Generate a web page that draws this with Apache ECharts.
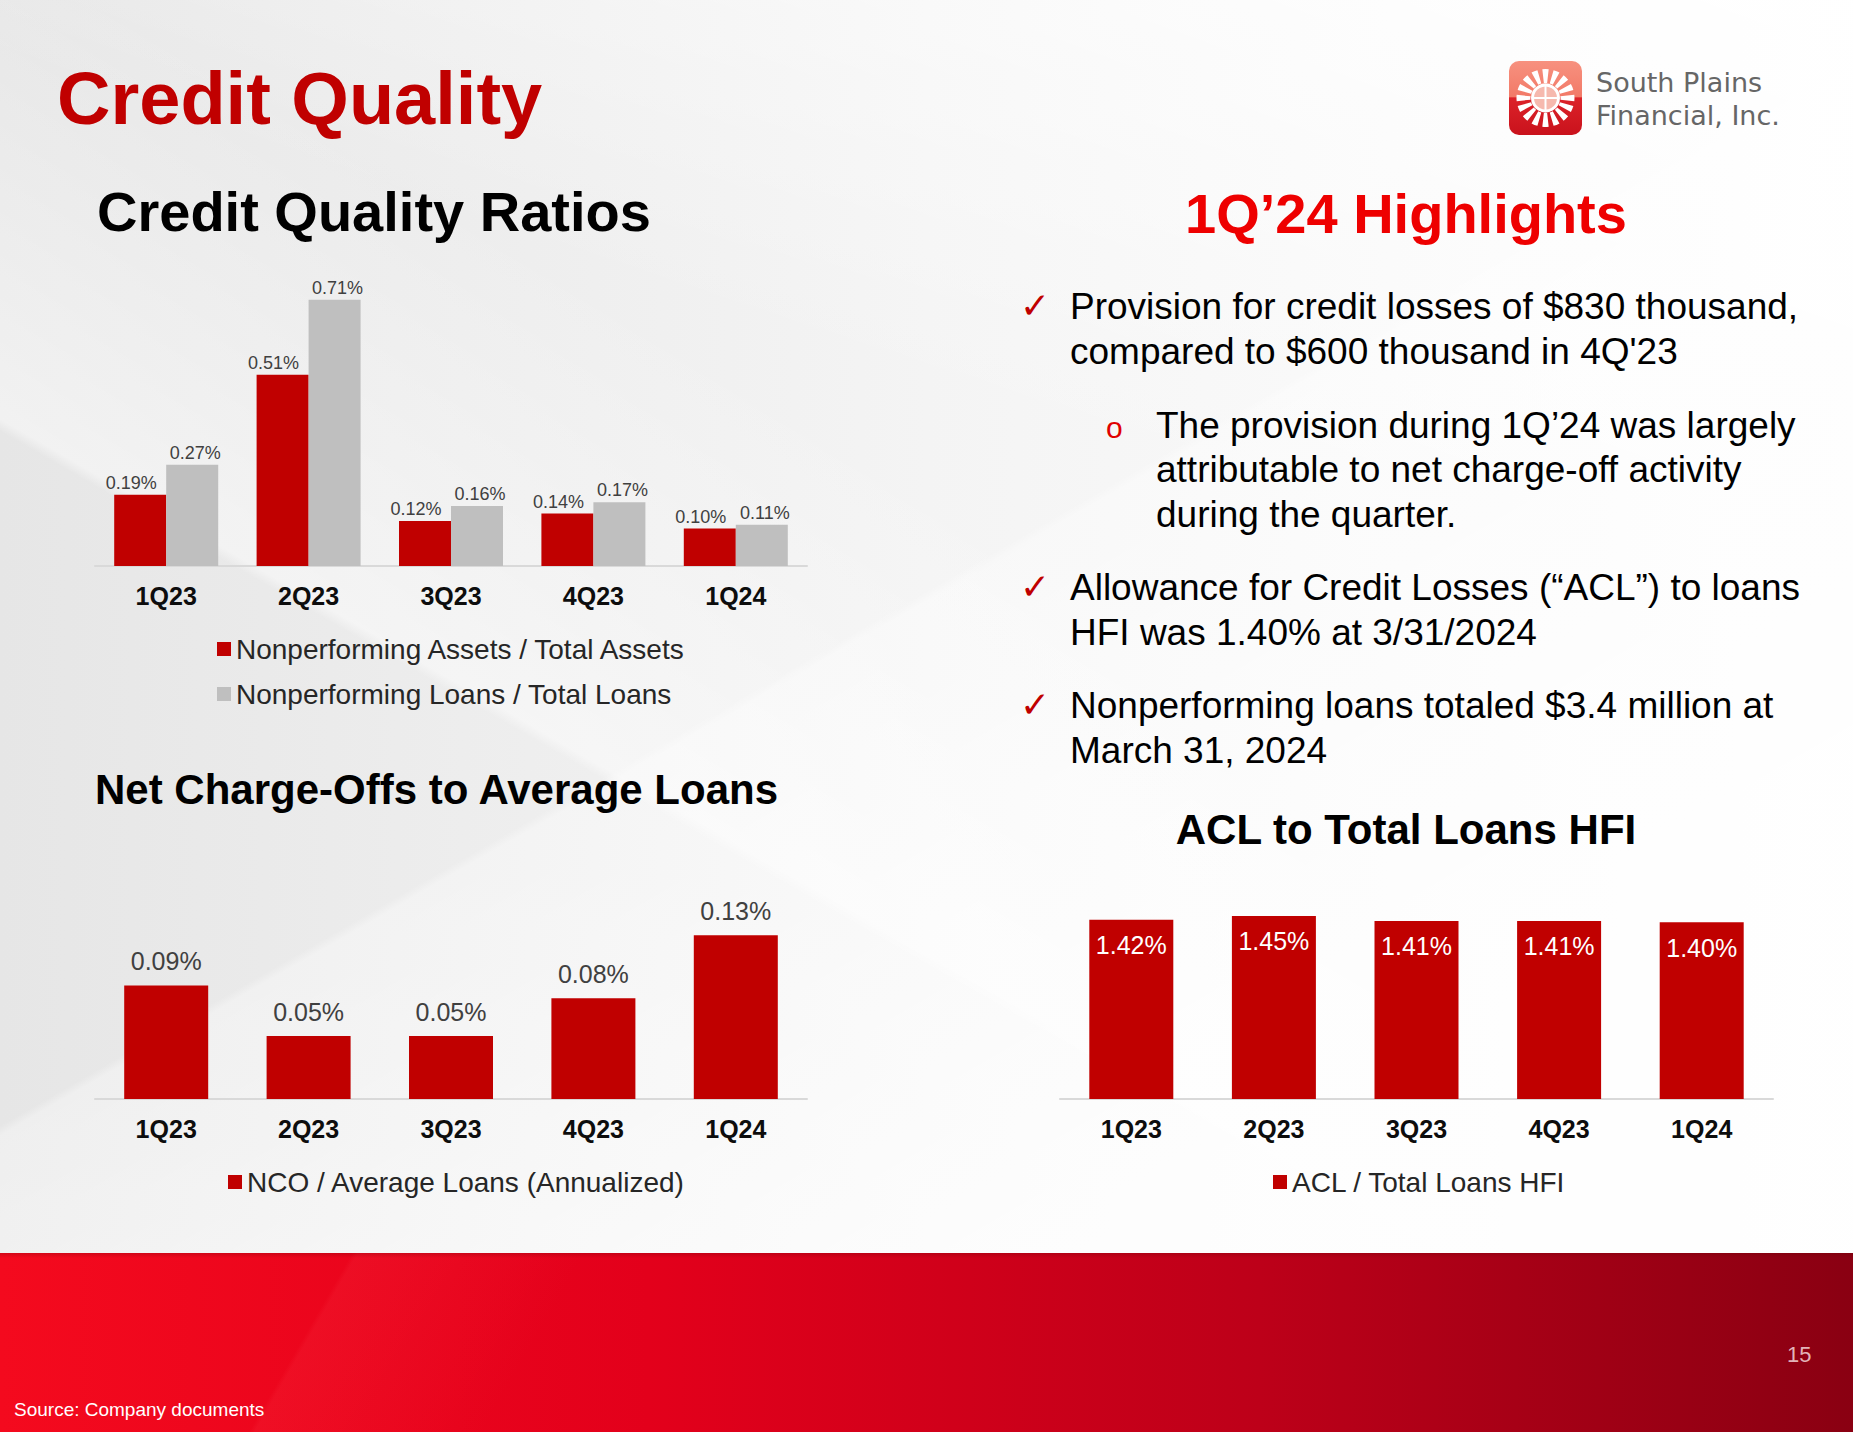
<!DOCTYPE html>
<html>
<head>
<meta charset="utf-8">
<script src="https://cdn.jsdelivr.net/npm/echarts@6/dist/echarts.min.js"></script>
<style>
  html, body { margin: 0; padding: 0; }
  #slide {
    width: 1853px; height: 1432px; position: relative; overflow: hidden;
    background:
      linear-gradient(200deg, rgba(255,255,255,0.9) 0%, rgba(255,255,255,0) 35%),
      linear-gradient(30deg, rgba(255,255,255,0) 40%, rgba(255,255,255,0.45) 40.5%, rgba(255,255,255,0) 60%),
      linear-gradient(150deg, rgba(255,255,255,0) 45%, rgba(255,255,255,0.35) 45.4%, rgba(255,255,255,0.8) 75%),
      linear-gradient(90deg, #e6e6e6 0%, #ededed 25%, #f4f4f4 50%, #f9f9f9 75%, #fdfdfd 100%);
  }
  #band {
    position: absolute; left: 0; top: 1253px; width: 1853px; height: 179px;
    background:
      linear-gradient(180deg, rgba(90,0,0,0.22) 0px, rgba(90,0,0,0) 5px),
      linear-gradient(120deg, rgba(255,255,255,0) 18%, rgba(255,80,90,0.12) 18.3%, rgba(255,255,255,0) 30%),
      linear-gradient(90deg, #f40a1e 0%, #e3001b 35%, #bd0019 68%, #8a0012 100%);
  }
  #chart { position: absolute; left: 0; top: 0; width: 1853px; height: 1432px; }
</style>
</head>
<body>
<div id="slide">
  <div id="band"></div>
  <div id="chart"></div>
</div>
<script>
// quarters on every chart
const quarters = ['1Q23', '2Q23', '3Q23', '4Q23', '1Q24']

// Credit Quality Ratios (%)
const npaToAssets = [0.19, 0.51, 0.12, 0.14, 0.10]
const nplToLoans = [0.27, 0.71, 0.16, 0.17, 0.11]

// Net charge-offs to average loans, annualized (%)
const ncoToLoans = [0.09, 0.05, 0.05, 0.08, 0.13]

// ACL to total loans HFI (%)
const aclToLoans = [1.42, 1.45, 1.41, 1.41, 1.40]

const FONT = '"Liberation Sans", Arial, sans-serif'
const RED = '#C00000'
const GREY = '#BFBFBF'

const pct = p => p.value.toFixed(2) + '%'

// text helper for the slide texts (vertical middle)
function txt(text, x, y, size, color, opts) {
  opts = opts || {}
  return {
    type: 'text',
    z: 10,
    style: {
      text: text,
      x: x,
      y: y,
      fontSize: size,
      fontWeight: opts.bold ? 'bold' : 'normal',
      fontFamily: opts.family || FONT,
      fill: color,
      align: opts.align || 'left',
      textAlign: opts.align || 'left',
      verticalAlign: 'middle',
      textVerticalAlign: 'middle'
    }
  }
}

// highlights, one entry per line: [marker, text, baseline]
const highlightLines = [
  ['check', 'Provision for credit losses of $830 thousand,', 319],
  ['', 'compared to $600 thousand in 4Q\'23', 364],
  ['sub', 'The provision during 1Q’24 was largely', 438],
  ['subtext', 'attributable to net charge-off activity', 482],
  ['subtext', 'during the quarter.', 527],
  ['check', 'Allowance for Credit Losses (“ACL”) to loans', 600],
  ['', 'HFI was 1.40% at 3/31/2024', 645],
  ['check', 'Nonperforming loans totaled $3.4 million at', 718],
  ['', 'March 31, 2024', 763]
]

let graphics = []

graphics.push(txt('Credit Quality', 57, 98, 74, RED, { bold: true }))
graphics.push(txt('Credit Quality Ratios', 97, 211, 56, '#000', { bold: true }))
graphics.push(txt('1Q’24 Highlights', 1406, 213, 56, '#EE0000', { bold: true, align: 'center' }))
graphics.push(txt('Net Charge-Offs to Average Loans', 95, 789, 42, '#000', { bold: true }))
graphics.push(txt('ACL to Total Loans HFI', 1406, 829, 42, '#000', { bold: true, align: 'center' }))

highlightLines.forEach(([kind, line, base]) => {
  let mid = base - 13
  if (kind === 'check') {
    graphics.push(txt('✓', 1020, mid - 1, 36, '#C00000', { family: '"DejaVu Sans", sans-serif' }))
  }
  if (kind === 'sub') {
    graphics.push(txt('o', 1106, mid + 2, 30, '#E00000'))
  }
  let x = (kind === 'sub' || kind === 'subtext') ? 1156 : 1070
  graphics.push(txt(line, x, mid, 37, '#000'))
})

graphics.push(txt('Source: Company documents', 14, 1409, 19, '#fff'))
graphics.push(txt('15', 1787, 1354, 22, '#E2B3B9'))

// logo
graphics.push({
  type: 'rect', z: 5,
  shape: { x: 1509, y: 61, width: 73, height: 74, r: 10 },
  style: {
    fill: new echarts.graphic.LinearGradient(0, 0, 0, 1, [
      { offset: 0, color: '#F7917F' },
      { offset: 0.48, color: '#F27A68' },
      { offset: 0.5, color: '#DC2229' },
      { offset: 1, color: '#C9121C' }
    ])
  }
})
const cx = 1545.5, cy = 98
for (let i = 0; i < 16; i++) {
  let a = (i / 16) * Math.PI * 2
  graphics.push({
    type: 'sector', z: 6,
    shape: { cx: cx, cy: cy, r: 29, r0: 15, startAngle: a - 0.11, endAngle: a + 0.11 },
    style: { fill: '#fff' }
  })
}
graphics.push({
  type: 'circle', z: 6,
  shape: { cx: cx, cy: cy, r: 13 },
  style: { fill: '#F6B9AE', stroke: '#fff', lineWidth: 3 }
})
graphics.push({
  type: 'line', z: 7,
  shape: { x1: cx - 13, y1: cy, x2: cx + 13, y2: cy },
  style: { stroke: '#fff', lineWidth: 2 }
})
graphics.push({
  type: 'line', z: 7,
  shape: { x1: cx, y1: cy - 13, x2: cx, y2: cy + 13 },
  style: { stroke: '#fff', lineWidth: 2 }
})
graphics.push(txt('South Plains', 1596, 82, 27, '#666', { family: '"DejaVu Sans", sans-serif' }))
graphics.push(txt('Financial, Inc.', 1596, 115, 27, '#666', { family: '"DejaVu Sans", sans-serif' }))

function catAxis(gridIndex) {
  return {
    type: 'category',
    gridIndex: gridIndex,
    data: quarters,
    axisLine: { lineStyle: { color: '#D9D9D9', width: 2 } },
    axisTick: { show: false },
    axisLabel: { fontSize: 25, fontWeight: 'bold', color: '#0D0D0D', margin: 17, fontFamily: FONT }
  }
}

function valAxis(gridIndex, max) {
  return { type: 'value', gridIndex: gridIndex, min: 0, max: max, show: false, splitLine: { show: false } }
}

const legendText = { fontSize: 28, color: '#262626', fontFamily: FONT }

const option = {
  animation: false,
  backgroundColor: 'transparent',
  textStyle: { fontFamily: FONT },
  graphic: graphics,
  grid: [
    { left: 95, top: 266, width: 712, height: 300 },
    { left: 95, top: 910, width: 712, height: 189 },
    { left: 1060, top: 897, width: 713, height: 202 }
  ],
  xAxis: [catAxis(0), catAxis(1), catAxis(2)],
  yAxis: [valAxis(0, 0.8), valAxis(1, 0.15), valAxis(2, 1.6)],
  legend: [
    {
      data: ['Nonperforming Assets / Total Assets', 'Nonperforming Loans / Total Loans'],
      orient: 'vertical', left: 212, top: 630,
      icon: 'rect', itemWidth: 14, itemHeight: 14, itemGap: 17,
      textStyle: legendText
    },
    {
      data: ['NCO / Average Loans (Annualized)'],
      left: 223, top: 1163,
      icon: 'rect', itemWidth: 14, itemHeight: 14,
      textStyle: legendText
    },
    {
      data: ['ACL / Total Loans HFI'],
      left: 1268, top: 1163,
      icon: 'rect', itemWidth: 14, itemHeight: 14,
      textStyle: legendText
    }
  ],
  series: [
    {
      name: 'Nonperforming Assets / Total Assets',
      type: 'bar', xAxisIndex: 0, yAxisIndex: 0,
      data: npaToAssets, barWidth: 52, barGap: '0%',
      itemStyle: { color: RED },
      label: { show: true, position: 'top', distance: 3, offset: [-9, 0], formatter: pct, fontSize: 18, color: '#404040' }
    },
    {
      name: 'Nonperforming Loans / Total Loans',
      type: 'bar', xAxisIndex: 0, yAxisIndex: 0,
      data: nplToLoans, barWidth: 52, barGap: '0%',
      itemStyle: { color: GREY },
      label: { show: true, position: 'top', distance: 3, offset: [3, 0], formatter: pct, fontSize: 18, color: '#404040' }
    },
    {
      name: 'NCO / Average Loans (Annualized)',
      type: 'bar', xAxisIndex: 1, yAxisIndex: 1,
      data: ncoToLoans, barWidth: 84,
      itemStyle: { color: RED },
      label: { show: true, position: 'top', distance: 12, formatter: pct, fontSize: 25, color: '#404040' }
    },
    {
      name: 'ACL / Total Loans HFI',
      type: 'bar', xAxisIndex: 2, yAxisIndex: 2,
      data: aclToLoans, barWidth: 84,
      itemStyle: { color: RED },
      label: { show: true, position: 'insideTop', distance: 13, formatter: pct, fontSize: 25, color: '#fff' }
    }
  ]
}

const chart = echarts.init(document.getElementById('chart'), null, { renderer: 'svg' })
chart.setOption(option)
</script>
</body>
</html>
